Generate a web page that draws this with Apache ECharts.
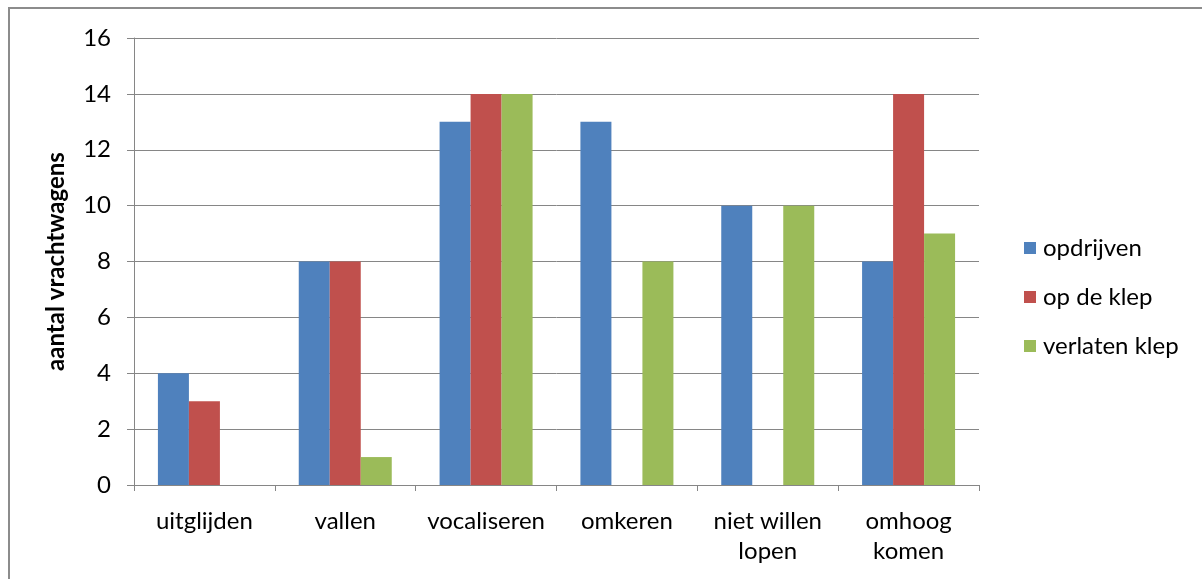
<!DOCTYPE html>
<html>
<head>
<meta charset="utf-8">
<script src="https://cdn.jsdelivr.net/npm/echarts@6/dist/echarts.min.js"></script>
<style>
  html, body { margin: 0; padding: 0; background: #fff; }
  #chart { width: 1202px; height: 579px; }
</style>
</head>
<body>
<div id="chart"></div>
<script>
// data
var categories = ['uitglijden', 'vallen', 'vocaliseren', 'omkeren', 'niet willen\nlopen', 'omhoog\nkomen']
var seriesNames = ['opdrijven', 'op de klep', 'verlaten klep']
var opdrijven = [4, 8, 13, 13, 10, 8]
var opDeKlep = [3, 8, 14, 0, 0, 14]
var verlatenKlep = [0, 1, 14, 8, 10, 9]
var colors = ['#4F81BD', '#C0504D', '#9BBB59']

var font = 'Lato, "Open Sans", sans-serif'
var gridColor = '#868686'

var chart = echarts.init(document.getElementById('chart'))
chart.setOption({
  animation: false,
  color: colors,
  textStyle: { fontFamily: font },
  graphic: [{
    type: 'rect',
    shape: { x: 9, y: 8, width: 1220, height: 600 },
    style: { fill: 'none', stroke: '#8c8c8c', lineWidth: 2 },
    silent: true
  }],
  grid: {
    left: 134,
    right: 223,
    top: 38,
    bottom: 94
  },
  legend: {
    orient: 'vertical',
    left: 1019,
    top: 231,
    itemWidth: 12,
    itemHeight: 12,
    itemGap: 25,
    icon: 'rect',
    data: seriesNames,
    textStyle: { fontFamily: font, fontSize: 24, color: '#000', padding: [0, 0, 0, 2] }
  },
  xAxis: {
    type: 'category',
    data: categories,
    axisLine: { lineStyle: { color: gridColor, width: 1 } },
    axisTick: { show: true, alignWithLabel: false, length: 6, lineStyle: { color: gridColor } },
    axisLabel: {
      fontFamily: font,
      fontSize: 24,
      color: '#000',
      margin: 21,
      lineHeight: 30,
      interval: 0
    }
  },
  yAxis: {
    type: 'value',
    min: 0,
    max: 16,
    interval: 2,
    name: 'aantal vrachtwagens',
    nameLocation: 'middle',
    nameGap: 66,
    nameTextStyle: { fontFamily: font, fontSize: 24, fontWeight: 'bold', color: '#000' },
    axisLine: { show: true, lineStyle: { color: gridColor, width: 1 } },
    axisTick: { show: true, length: 7, inside: false, lineStyle: { color: gridColor } },
    axisLabel: { fontFamily: font, fontSize: 24, color: '#000', margin: 23 },
    splitLine: { lineStyle: { color: gridColor, width: 1 } }
  },
  series: [
    { name: seriesNames[0], type: 'bar', data: opdrijven, barWidth: 31, barGap: '0%' },
    { name: seriesNames[1], type: 'bar', data: opDeKlep, barWidth: 31, barGap: '0%' },
    { name: seriesNames[2], type: 'bar', data: verlatenKlep, barWidth: 31, barGap: '0%' }
  ]
})
</script>
</body>
</html>
